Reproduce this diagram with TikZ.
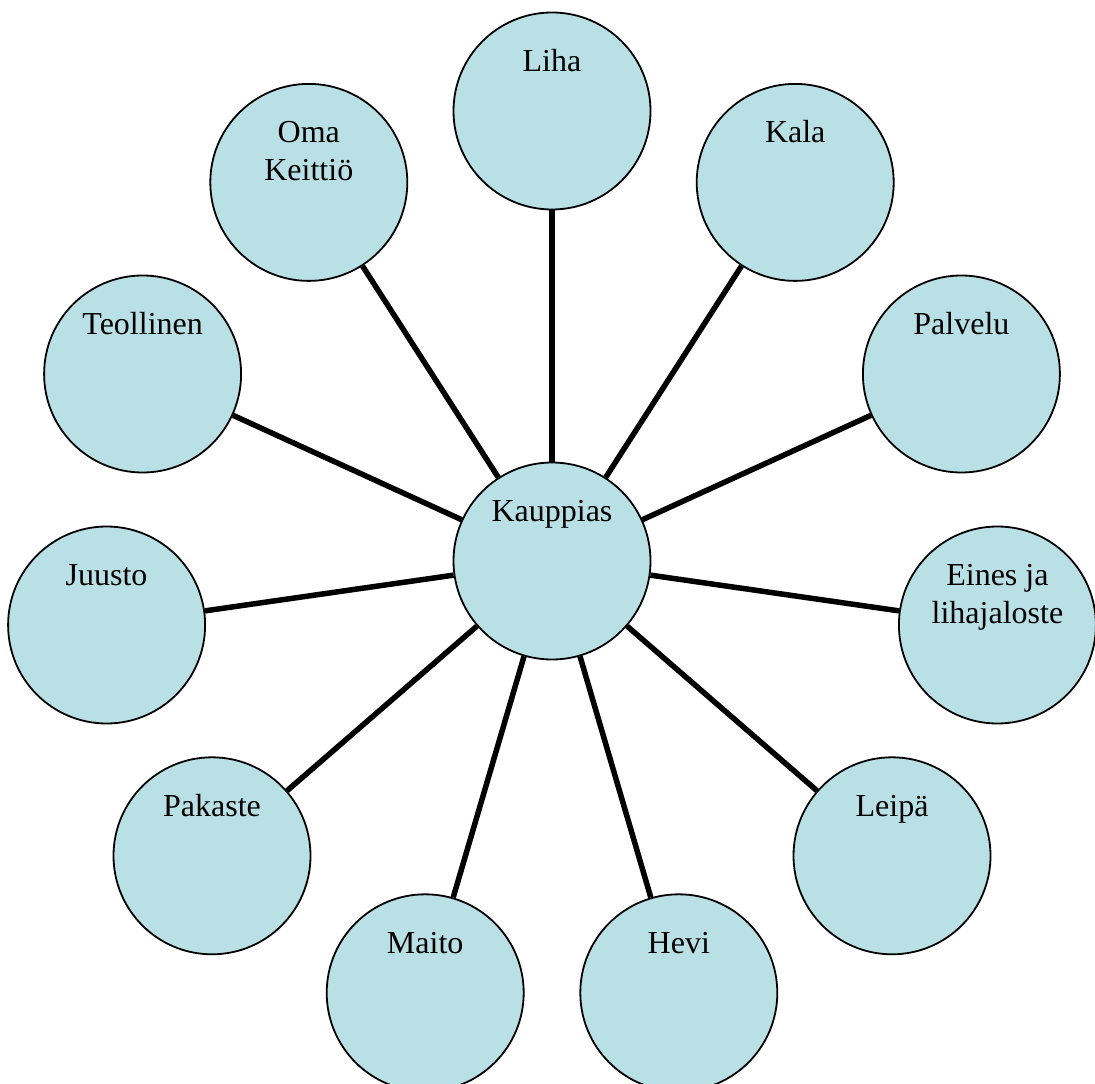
\documentclass[tikz,border=0pt]{standalone}
\usepackage{fontspec}
\setmainfont{Liberation Serif}
\definecolor{ballfill}{RGB}{185,224,229}
\begin{document}
\begin{tikzpicture}[line join=bevel,
  ball/.style={circle,draw=black,line width=0.9pt,fill=ballfill,minimum size=98.5pt,inner sep=0pt},
  balltext/.style={anchor=base,align=center,inner sep=0pt,font=\fontsize{16pt}{19pt}\selectfont},
  spoke/.style={black,line width=2.75pt}]
\useasboundingbox (0pt,0pt) rectangle (547.5pt,541.5pt);
%%
\node (node_kauppias) at (276.0pt,261.0pt) [ball] {};
  \node (node_liha) at (276.0pt,486.0pt) [ball] {};
  \node (node_kala) at (397.6pt,450.3pt) [ball] {};
  \node (node_palvelu) at (480.7pt,354.5pt) [ball] {};
  \node (node_eines) at (498.7pt,229.0pt) [ball] {};
  \node (node_leipa) at (446.0pt,113.6pt) [ball] {};
  \node (node_hevi) at (339.4pt,45.1pt) [ball] {};
  \node (node_maito) at (212.6pt,45.1pt) [ball] {};
  \node (node_pakaste) at (106.0pt,113.6pt) [ball] {};
  \node (node_juusto) at (53.3pt,229.0pt) [ball] {};
  \node (node_teollinen) at (71.3pt,354.5pt) [ball] {};
  \node (node_keittio) at (154.4pt,450.3pt) [ball] {};
%
\node (text_kauppias) at ([yshift=19.75pt]node_kauppias.center) [balltext] {Kauppias};
  \node (text_liha) at ([yshift=19.75pt]node_liha.center) [balltext] {Liha};
  \node (text_kala) at ([yshift=19.75pt]node_kala.center) [balltext] {Kala};
  \node (text_palvelu) at ([yshift=19.75pt]node_palvelu.center) [balltext] {Palvelu};
  \node (text_eines) at ([yshift=1pt]node_eines.center) [balltext] {Eines ja\\lihajaloste};
  \node (text_leipa) at ([yshift=19.75pt]node_leipa.center) [balltext] {Leipä};
  \node (text_hevi) at ([yshift=19.75pt]node_hevi.center) [balltext] {Hevi};
  \node (text_maito) at ([yshift=19.75pt]node_maito.center) [balltext] {Maito};
  \node (text_pakaste) at ([yshift=19.75pt]node_pakaste.center) [balltext] {Pakaste};
  \node (text_juusto) at ([yshift=19.75pt]node_juusto.center) [balltext] {Juusto};
  \node (text_teollinen) at ([yshift=19.75pt]node_teollinen.center) [balltext] {Teollinen};
  \node (text_keittio) at ([yshift=1pt]node_keittio.center) [balltext] {Oma\\Keittiö};
%
\draw [spoke] (node_kauppias) -- (node_liha);
  \draw [spoke] (node_kauppias) -- (node_kala);
  \draw [spoke] (node_kauppias) -- (node_palvelu);
  \draw [spoke] (node_kauppias) -- (node_eines);
  \draw [spoke] (node_kauppias) -- (node_leipa);
  \draw [spoke] (node_kauppias) -- (node_hevi);
  \draw [spoke] (node_kauppias) -- (node_maito);
  \draw [spoke] (node_kauppias) -- (node_pakaste);
  \draw [spoke] (node_kauppias) -- (node_juusto);
  \draw [spoke] (node_kauppias) -- (node_teollinen);
  \draw [spoke] (node_kauppias) -- (node_keittio);
%
\end{tikzpicture}
\end{document}
